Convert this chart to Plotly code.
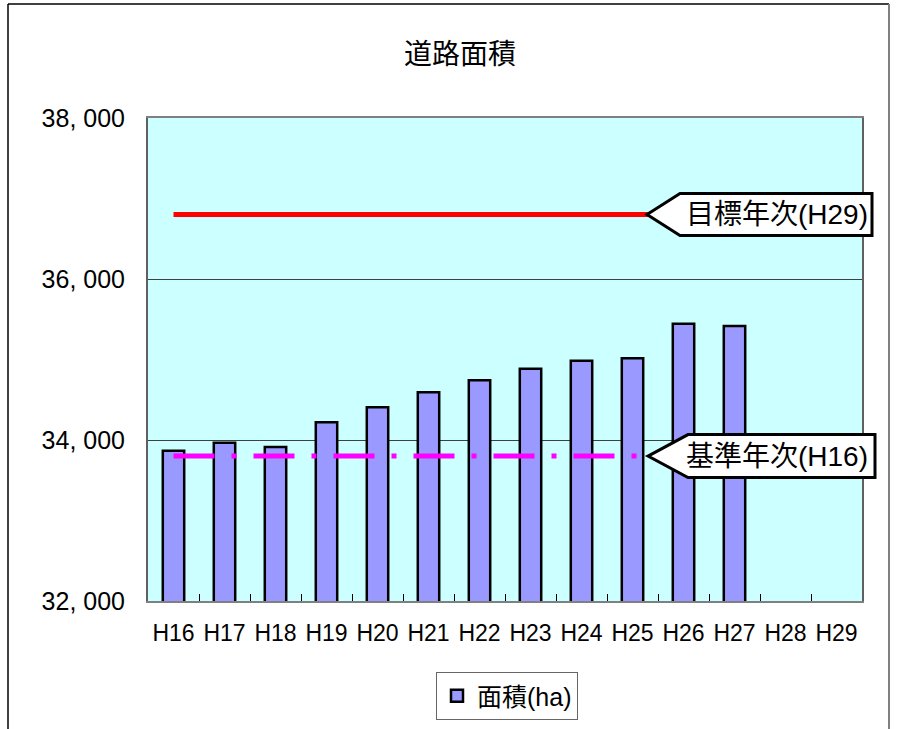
import plotly.graph_objects as go

# ---- data ----
years = ["H16", "H17", "H18", "H19", "H20", "H21", "H22",
         "H23", "H24", "H25", "H26", "H27", "H28", "H29"]
area = [33867, 33966, 33913, 34220, 34406, 34593, 34742,
        34886, 34985, 35015, 35445, 35416, None, None]
target_value = 36800   # 目標年次(H29)
base_value = 33800     # 基準年次(H16)
y_ticks = [32000, 34000, 36000, 38000]
y_tick_text = ["32, 000", "34, 000", "36, 000", "38, 000"]
series_name = "面積(ha)"
chart_title = "道路面積"
target_label = "目標年次(H29)"
base_label = "基準年次(H16)"

# ---- layout geometry (pixels) ----
W, H = 897, 729
L, R, T, B = 148, 35, 118, 128
PW, PH = W - L - R, H - T - B
YMIN, YMAX = 32000, 38000

FONT = "Liberation Sans, Noto Sans CJK JP, sans-serif"
CJK = "Noto Sans CJK JP, Liberation Sans, sans-serif"


def px_x(px):
    return (px - L) / PW


def px_y(py):
    return (H - B - py) / PH


def val_y(v, dy_px=0):
    return (v - YMIN) / (YMAX - YMIN) + dy_px / PH


fig = go.Figure()

fig.add_trace(go.Bar(
    x=years, y=area, name=series_name, width=0.42,
    marker=dict(color="#9999FF", line=dict(color="black", width=2.5)),
    showlegend=True,
))

fig.add_trace(go.Scatter(
    x=[years[0], years[-1]], y=[target_value, target_value], mode="lines",
    line=dict(color="#FF0000", width=5), showlegend=False, hoverinfo="skip",
))

fig.add_trace(go.Scatter(
    x=[years[0], years[-1]], y=[base_value, base_value], mode="lines",
    line=dict(color="#FF00FF", width=5, dash="41px,17px,5px,17px"),
    showlegend=False, hoverinfo="skip",
))


def callout(value, tip_px, corner_px, right_px, half_h):
    tx, cx, rx = px_x(tip_px), px_x(corner_px), px_x(right_px)
    ty = val_y(value)
    yt, yb = val_y(value, half_h), val_y(value, -half_h)
    path = (f"M{tx},{ty} L{cx},{yt} L{rx},{yt} L{rx},{yb} L{cx},{yb} Z")
    return dict(type="path", path=path, xref="paper", yref="paper",
                fillcolor="white", line=dict(color="black", width=3),
                layer="above")


shapes = [
    callout(target_value, 647, 680, 872, 21),
    callout(base_value, 648, 688, 875, 21.5),
    # outer chart frame
    dict(type="line", xref="paper", yref="paper", x0=px_x(8), x1=px_x(8),
         y0=px_y(4), y1=px_y(740), line=dict(color="black", width=1.5)),
    dict(type="line", xref="paper", yref="paper", x0=px_x(8), x1=px_x(889),
         y0=px_y(4), y1=px_y(4), line=dict(color="black", width=1.5)),
    dict(type="line", xref="paper", yref="paper", x0=px_x(889), x1=px_x(889),
         y0=px_y(4), y1=px_y(740), line=dict(color="#808080", width=2)),
]

annotations = [
    dict(text=chart_title, xref="paper", yref="paper", x=px_x(460), y=px_y(52),
         showarrow=False, font=dict(family=CJK, size=28, color="black"),
         xanchor="center", yanchor="middle"),
    dict(text=target_label, xref="paper", yref="paper", x=px_x(777),
         y=val_y(target_value), showarrow=False,
         font=dict(family=FONT, size=28, color="black"),
         xanchor="center", yanchor="middle"),
    dict(text=base_label, xref="paper", yref="paper", x=px_x(777),
         y=val_y(base_value), showarrow=False,
         font=dict(family=FONT, size=28, color="black"),
         xanchor="center", yanchor="middle"),
]

fig.update_layout(
    width=W, height=H,
    margin=dict(l=L, r=R, t=T, b=B, autoexpand=False),
    paper_bgcolor="white", plot_bgcolor="#CCFFFF",
    font=dict(family=FONT, color="black"),
    shapes=shapes, annotations=annotations,
    bargap=0.58,
    legend=dict(
        x=px_x(507), y=px_y(696), xanchor="center", yanchor="middle",
        bgcolor="white", bordercolor="#666666", borderwidth=1,
        font=dict(family=FONT, size=25, color="black"),
        itemwidth=30,
    ),
    xaxis=dict(
        type="category", categoryorder="array", categoryarray=years,
        range=[-0.5, len(years) - 0.5],
        showline=True, linecolor="#808080", linewidth=2, mirror=True,
        ticks="inside", tickson="boundaries", ticklen=7, tickcolor="black",
        tickwidth=1, showgrid=False, tickangle=0,
        tickfont=dict(family=FONT, size=23, color="black"),
        ticklabelstandoff=10,
    ),
    yaxis=dict(
        range=[YMIN, YMAX], tickvals=y_ticks, ticktext=y_tick_text,
        showline=True, linecolor="#606060", linewidth=2, mirror=True,
        ticks="inside", ticklen=7, tickcolor="#404040",
        showgrid=True, gridcolor="#404040", gridwidth=1, zeroline=False,
        tickfont=dict(family=FONT, size=25, color="black"),
        ticklabelstandoff=16,
    ),
)

fig.write_html("out.html")
